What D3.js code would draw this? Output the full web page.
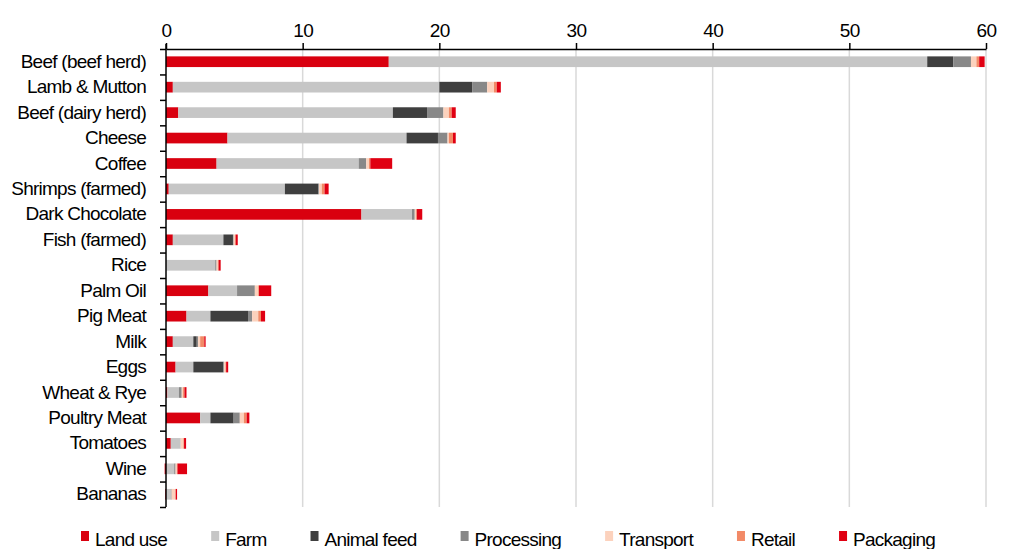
<!DOCTYPE html>
<html>
<head>
<meta charset="utf-8">
<script src="https://cdn.jsdelivr.net/npm/d3@7"></script>
<style>
  html, body { margin: 0; padding: 0; background: #fff; }
  svg { display: block; font-family: "Liberation Sans", Arial, sans-serif; }
</style>
</head>
<body>
<div id="chart"></div>
<script>
// kg CO2eq per kg of product, by supply chain stage
const foods = ["Beef (beef herd)", "Lamb & Mutton", "Beef (dairy herd)", "Cheese", "Coffee",
  "Shrimps (farmed)", "Dark Chocolate", "Fish (farmed)", "Rice", "Palm Oil", "Pig Meat",
  "Milk", "Eggs", "Wheat & Rye", "Poultry Meat", "Tomatoes", "Wine", "Bananas"];

const landUse    = [16.3, 0.5, 0.9, 4.5, 3.7, 0.2, 14.3, 0.5, 0.0, 3.1, 1.5, 0.5, 0.7, 0.1, 2.5, 0.35, -0.1, -0.05];
const farm       = [39.4, 19.5, 15.7, 13.1, 10.4, 8.5, 3.7, 3.7, 3.6, 2.1, 1.75, 1.5, 1.3, 0.85, 0.75, 0.7, 0.6, 0.35];
const animalFeed = [1.9, 2.4, 2.5, 2.3, 0.0, 2.45, 0.0, 0.7, 0.0, 0.0, 2.75, 0.25, 2.2, 0.0, 1.7, 0.0, 0.0, 0.0];
const processing = [1.3, 1.1, 1.2, 0.7, 0.55, 0.05, 0.2, 0.05, 0.1, 1.3, 0.3, 0.1, 0.05, 0.2, 0.45, 0.02, 0.1, 0.06];
const transport  = [0.4, 0.5, 0.4, 0.1, 0.2, 0.2, 0.1, 0.1, 0.1, 0.25, 0.45, 0.15, 0.1, 0.1, 0.3, 0.2, 0.1, 0.28];
const retail     = [0.2, 0.2, 0.2, 0.3, 0.1, 0.2, 0.05, 0.05, 0.05, 0.05, 0.2, 0.3, 0.05, 0.1, 0.2, 0.05, 0.04, 0.02];
const packaging  = [0.4, 0.3, 0.3, 0.2, 1.6, 0.3, 0.4, 0.15, 0.15, 0.9, 0.3, 0.1, 0.15, 0.15, 0.2, 0.15, 0.7, 0.1];

const seriesNames = ["Land use", "Farm", "Animal feed", "Processing", "Transport", "Retail", "Packaging"];
const seriesValues = [landUse, farm, animalFeed, processing, transport, retail, packaging];
const seriesColors = ["#d9000f", "#c6c6c6", "#3f3f3f", "#888888", "#fcd2bd", "#f28a67", "#e00012"];

const xTicks = [0, 10, 20, 30, 40, 50, 60];

const width = 1011, height = 549;
const margin = { top: 49, left: 166, right: 25, bottom: 42 };
const innerW = width - margin.left - margin.right;
const innerH = height - margin.top - margin.bottom;

// table for d3.stack
const rows = foods.map((f, i) => {
  const r = { food: f };
  seriesNames.forEach((s, j) => { r[s] = seriesValues[j][i]; });
  return r;
});

const stacked = d3.stack()
  .keys(seriesNames)
  .offset(d3.stackOffsetDiverging)(rows);

const svg = d3.select("#chart").append("svg")
  .attr("width", width)
  .attr("height", height);

const g = svg.append("g")
  .attr("transform", `translate(${margin.left},${margin.top})`);

const x = d3.scaleLinear().domain([0, 60]).range([0, innerW]);
const y = d3.scaleBand().domain(foods).range([0, innerH]).paddingInner(0.58).paddingOuter(0.29);
const color = d3.scaleOrdinal().domain(seriesNames).range(seriesColors);

// vertical gridlines
g.append("g")
  .selectAll("line")
  .data(xTicks.filter(d => d > 0))
  .join("line")
  .attr("x1", d => x(d)).attr("x2", d => x(d))
  .attr("y1", 0).attr("y2", innerH)
  .attr("stroke", "#d9d9d9")
  .attr("stroke-width", 1.5);

// bars
g.append("g")
  .selectAll("g")
  .data(stacked)
  .join("g")
  .attr("fill", d => color(d.key))
  .selectAll("rect")
  .data(d => d)
  .join("rect")
  .attr("x", d => x(Math.min(d[0], d[1])))
  .attr("y", d => y(d.data.food))
  .attr("width", d => Math.abs(x(d[1]) - x(d[0])))
  .attr("height", y.bandwidth());

// top x axis
const xAxis = g.append("g")
  .call(d3.axisTop(x).tickValues(xTicks).tickSize(6).tickPadding(6).tickSizeOuter(0));
xAxis.select(".domain").attr("stroke", "#000").attr("stroke-width", 1.5);
xAxis.selectAll(".tick line").attr("stroke", "#000").attr("stroke-width", 1.5);
xAxis.selectAll("text")
  .style("font-size", "19px")
  .style("letter-spacing", "-0.6px")
  .attr("fill", "#000");

// left axis: ticks between categories
const edge = d3.scaleLinear().domain([0, foods.length]).range([0, innerH]);
const yTicks = g.append("g")
  .call(d3.axisLeft(edge).ticks(foods.length).tickFormat("").tickSize(6).tickSizeOuter(0));
yTicks.select(".domain").attr("stroke", "#000").attr("stroke-width", 1.5)
  .attr("d", `M0,-5V${innerH}`);
yTicks.selectAll(".tick line").attr("stroke", "#000").attr("stroke-width", 1.5);

// left axis labels
const yAxis = g.append("g")
  .call(d3.axisLeft(y).tickSize(0).tickPadding(20));
yAxis.select(".domain").remove();
yAxis.selectAll("text")
  .style("font-size", "19px")
  .style("letter-spacing", "-0.75px")
  .attr("fill", "#000");

// legend
const legend = svg.append("g").attr("transform", "translate(81,0)");
let lx = 0;
seriesNames.forEach((s) => {
  const item = legend.append("g").attr("transform", `translate(${lx},0)`);
  item.append("rect")
    .attr("x", 0).attr("y", 531)
    .attr("width", 8).attr("height", 10)
    .attr("fill", color(s));
  const t = item.append("text")
    .attr("x", 14).attr("y", 546)
    .style("font-size", "19px")
    .style("letter-spacing", "-0.75px")
    .attr("fill", "#000")
    .text(s);
  lx += 14 + t.node().getComputedTextLength() + 44;
});
</script>
</body>
</html>
